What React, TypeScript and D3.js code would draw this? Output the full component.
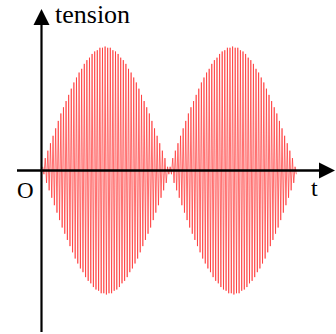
import React, { useEffect, useRef } from 'react';
import * as d3 from 'd3';

// envelope of the beat, one value per carrier cycle (peak = 1)
const lobe1 = [
  0.03, 0.1, 0.16, 0.22, 0.28, 0.34, 0.4, 0.46, 0.51, 0.56,
  0.61, 0.66, 0.71, 0.75, 0.79, 0.82, 0.86, 0.89, 0.91, 0.94,
  0.96, 0.97, 0.99, 0.99, 1.0, 0.99, 0.99, 0.97, 0.96, 0.94,
  0.91, 0.89, 0.86, 0.82, 0.79, 0.75, 0.71, 0.66, 0.61, 0.56,
  0.51, 0.46, 0.4, 0.34, 0.28, 0.22, 0.16, 0.1, 0.03,
];
const lobe2 = [
  0.03, 0.1, 0.16, 0.22, 0.28, 0.34, 0.4, 0.46, 0.51, 0.56,
  0.61, 0.66, 0.71, 0.75, 0.79, 0.82, 0.86, 0.89, 0.91, 0.94,
  0.96, 0.97, 0.99, 0.99, 1.0, 0.99, 0.99, 0.97, 0.96, 0.94,
  0.91, 0.89, 0.86, 0.82, 0.79, 0.75, 0.71, 0.66, 0.61, 0.56,
  0.51, 0.46, 0.4, 0.34, 0.28, 0.22, 0.16, 0.1, 0.03,
];
const axisLabels = { y: 'tension', x: 't', origin: 'O' };

const App = () => {
  const ref = useRef<SVGSVGElement>(null);

  useEffect(() => {
    const svg = d3.select(ref.current);
    svg.selectAll('*').remove();

    const env = [...lobe1, ...lobe2];
    const n = env.length;

    // time in cycles, amplitude normalised
    const x = d3.scaleLinear().domain([0, n]).range([42, 297]);
    const y = d3.scaleLinear().domain([-1, 1]).range([294.5, 46.5]);

    const pts: [number, number][] = [];
    env.forEach((a, k) => {
      pts.push([k + 0.25, a]);
      pts.push([k + 0.75, -a]);
    });

    const line = d3.line<[number, number]>()
      .x(d => x(d[0]))
      .y(d => y(d[1]));

    svg.append('path')
      .attr('d', line(pts))
      .attr('fill', 'none')
      .attr('stroke', '#ff2a2a')
      .attr('stroke-opacity', 0.75)
      .attr('stroke-width', 0.9);

    // axes
    const ox = x(0) - 0.5;
    const oy = y(0);
    svg.append('line')
      .attr('x1', ox).attr('y1', 332).attr('x2', ox).attr('y2', 22)
      .attr('stroke', '#000').attr('stroke-width', 2.2);
    svg.append('path')
      .attr('d', `M${ox},9 L${ox - 8},25 L${ox + 8},25 Z`)
      .attr('fill', '#000');

    svg.append('line')
      .attr('x1', 17).attr('y1', oy).attr('x2', 322).attr('y2', oy)
      .attr('stroke', '#000').attr('stroke-width', 2.5);
    svg.append('path')
      .attr('d', `M335,${oy} L319,${oy - 8} L319,${oy + 8} Z`)
      .attr('fill', '#000');

    const font = "'Times New Roman', Times, 'Liberation Serif', 'DejaVu Serif', serif";
    svg.append('text')
      .attr('x', 55).attr('y', 23)
      .style('font-family', font).style('font-size', '26px')
      .text(axisLabels.y);
    svg.append('text')
      .attr('x', 17).attr('y', 198)
      .style('font-family', font).style('font-size', '23px')
      .text(axisLabels.origin);
    svg.append('text')
      .attr('x', 311).attr('y', 196)
      .style('font-family', font).style('font-size', '24px')
      .text(axisLabels.x);
  }, []);

  return (
    <svg
      ref={ref}
      width={336}
      height={334}
      style={{ position: 'absolute', left: 0, top: 0, background: '#fff' }}
    />
  );
};

export default App;
